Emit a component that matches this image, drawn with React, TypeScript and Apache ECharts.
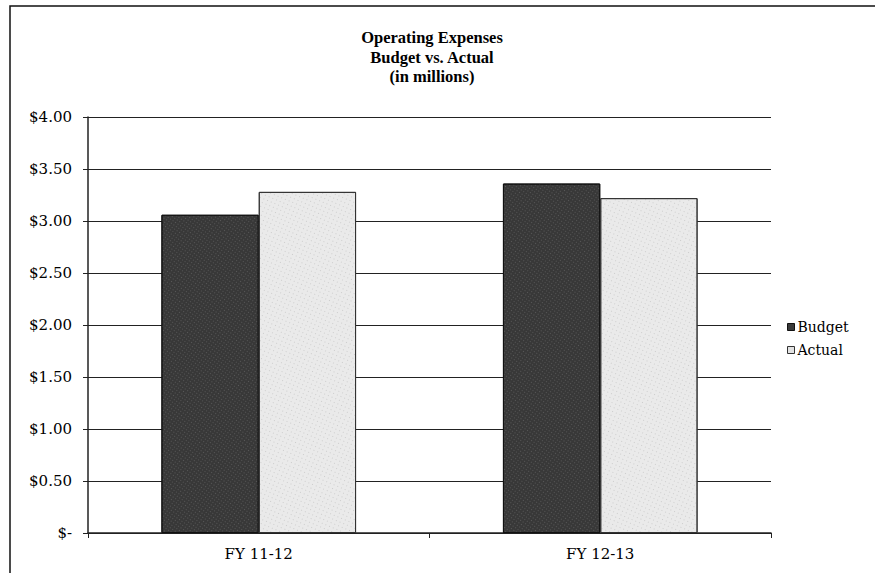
import React, { useEffect, useRef } from "react";
import * as echarts from "echarts";

const categories = ["FY 11-12", "FY 12-13"];
const budget = [3.06, 3.36];
const actual = [3.28, 3.22];
const yTicks = [0, 0.5, 1, 1.5, 2, 2.5, 3, 3.5, 4];

export default function App() {
  const ref = useRef<HTMLDivElement>(null);
  useEffect(() => {
    if (!ref.current) return;
    const chart = echarts.init(ref.current, null, { renderer: "svg" });
    const font = "'Liberation Serif', 'DejaVu Serif', serif";
    const wide = "'DejaVu Serif', serif";
    chart.setOption({
      animation: false,
      backgroundColor: "#ffffff",
      textStyle: { fontFamily: wide, color: "#000" },
      title: {
        text: "Operating Expenses\nBudget vs. Actual\n(in millions)",
        left: 427,
        top: 23,
        textAlign: "center",
        textStyle: { fontFamily: font, fontSize: 16.5, fontWeight: "bold", lineHeight: 19.5, color: "#000" },
      },
      graphic: [
        {
          type: "rect",
          shape: { x: 10, y: 6, width: 900, height: 620 },
          style: { fill: "none", stroke: "#111", lineWidth: 1.5 },
          silent: true,
        },
      ],
      legend: {
        orient: "vertical",
        left: 782,
        top: 315,
        itemWidth: 7,
        itemHeight: 7,
        itemGap: 9,
        icon: "rect",
        textStyle: { fontFamily: wide, fontSize: 14, color: "#000", padding: [0, 0, 0, -2] },
        data: [
          { name: "Budget", itemStyle: { color: "#3a3a3a", borderColor: "#111", borderWidth: 1, decal: "none" } },
          { name: "Actual", itemStyle: { color: "#e2e2e2", borderColor: "#333", borderWidth: 1, decal: "none" } },
        ],
      },
      grid: { left: 88, right: 104, top: 117, bottom: 40, containLabel: false },
      xAxis: {
        type: "category",
        data: categories,
        axisLine: { lineStyle: { color: "#222", width: 1.5 } },
        axisTick: { show: true, alignWithLabel: false, length: 5, lineStyle: { color: "#222" } },
        axisLabel: { fontFamily: wide, fontSize: 15, color: "#000", margin: 13 },
      },
      yAxis: {
        type: "value",
        min: 0,
        max: 4,
        interval: 0.5,
        axisLine: { show: true, lineStyle: { color: "#222", width: 1.5 } },
        axisTick: { show: true, length: 5, inside: false, lineStyle: { color: "#222" } },
        splitLine: { show: true, lineStyle: { color: "#222", width: 1 } },
        axisLabel: {
          fontFamily: wide,
          fontSize: 15,
          color: "#000",
          margin: 16,
          formatter: (v: number) => (v === 0 ? "$-" : "$" + v.toFixed(2)),
        },
      },
      series: [
        {
          name: "Budget",
          type: "bar",
          data: budget,
          barGap: "0%",
          barCategoryGap: "43%",
          itemStyle: {
            color: "#383838",
            borderColor: "#111",
            borderWidth: 1,
            decal: {
              symbol: "rect",
              symbolSize: 0.7,
              color: "rgba(210,210,210,0.6)",
              dashArrayX: [1, 2],
              dashArrayY: [1, 2],
              rotation: 0.6,
            },
          },
        },
        {
          name: "Actual",
          type: "bar",
          data: actual,
          itemStyle: {
            color: "#eaeaea",
            borderColor: "#333",
            borderWidth: 1,
            decal: {
              symbol: "rect",
              symbolSize: 0.7,
              color: "rgba(80,80,80,0.55)",
              dashArrayX: [1, 3],
              dashArrayY: [1, 3],
              rotation: 0.4,
            },
          },
        },
      ],
      aria: { enabled: true, decal: { show: true } },
    });
    return () => chart.dispose();
  }, []);
  return (
    <div
      ref={ref}
      style={{ position: "fixed", left: 0, top: 0, width: 875, height: 573 }}
    />
  );
}
